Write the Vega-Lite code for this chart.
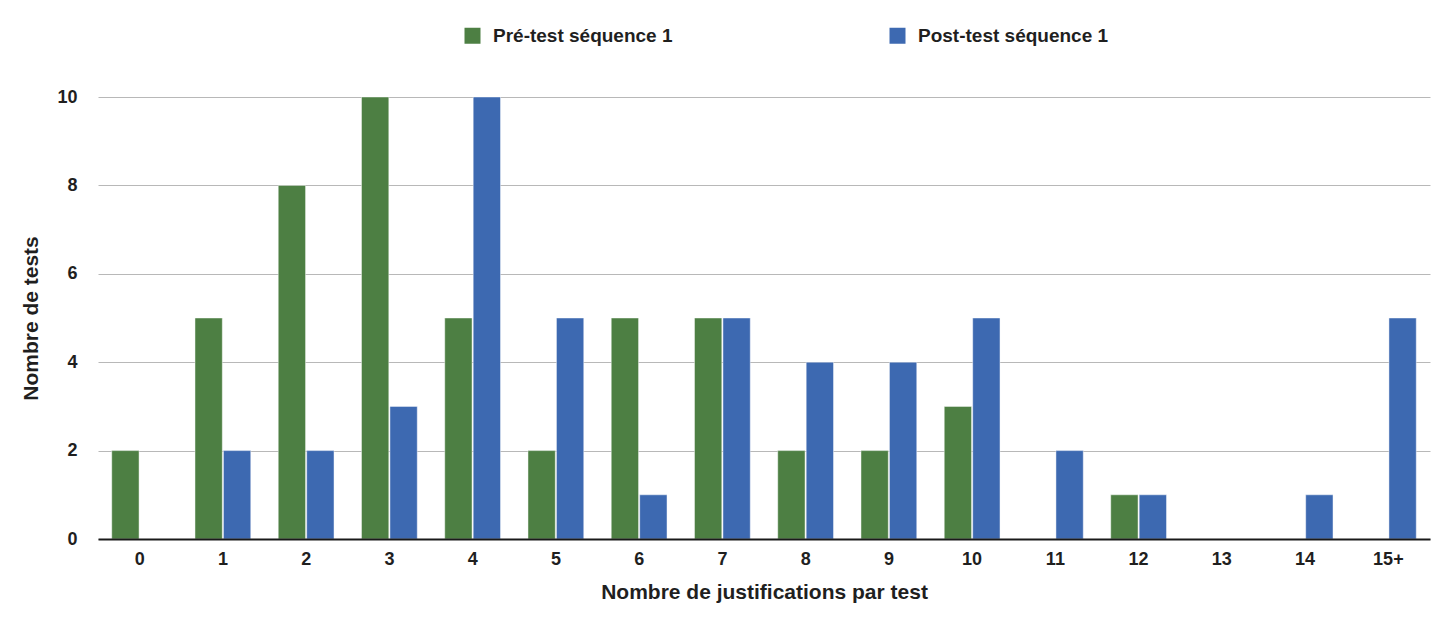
{
  "$schema": "https://vega.github.io/schema/vega-lite/v6.json",
  "width": 1332,
  "height": 442,
  "autosize": {"type": "none"},
  "padding": {"left": 98, "top": 97, "right": 5, "bottom": 83},
  "background": "white",
  "config": {
    "font": "Liberation Sans",
    "view": {"stroke": null},
    "axis": {"labelFont": "Liberation Sans", "titleFont": "Liberation Sans", "labelFontWeight": "bold", "titleFontWeight": "bold", "labelColor": "#1f1f1f", "titleColor": "#1f1f1f"}
  },
  "data": {
    "values": [
      {"cat": "0", "serie": "Pré-test séquence 1", "n": 2},
      {"cat": "1", "serie": "Pré-test séquence 1", "n": 5},
      {"cat": "1", "serie": "Post-test séquence 1", "n": 2},
      {"cat": "2", "serie": "Pré-test séquence 1", "n": 8},
      {"cat": "2", "serie": "Post-test séquence 1", "n": 2},
      {"cat": "3", "serie": "Pré-test séquence 1", "n": 10},
      {"cat": "3", "serie": "Post-test séquence 1", "n": 3},
      {"cat": "4", "serie": "Pré-test séquence 1", "n": 5},
      {"cat": "4", "serie": "Post-test séquence 1", "n": 10},
      {"cat": "5", "serie": "Pré-test séquence 1", "n": 2},
      {"cat": "5", "serie": "Post-test séquence 1", "n": 5},
      {"cat": "6", "serie": "Pré-test séquence 1", "n": 5},
      {"cat": "6", "serie": "Post-test séquence 1", "n": 1},
      {"cat": "7", "serie": "Pré-test séquence 1", "n": 5},
      {"cat": "7", "serie": "Post-test séquence 1", "n": 5},
      {"cat": "8", "serie": "Pré-test séquence 1", "n": 2},
      {"cat": "8", "serie": "Post-test séquence 1", "n": 4},
      {"cat": "9", "serie": "Pré-test séquence 1", "n": 2},
      {"cat": "9", "serie": "Post-test séquence 1", "n": 4},
      {"cat": "10", "serie": "Pré-test séquence 1", "n": 3},
      {"cat": "10", "serie": "Post-test séquence 1", "n": 5},
      {"cat": "11", "serie": "Post-test séquence 1", "n": 2},
      {"cat": "12", "serie": "Pré-test séquence 1", "n": 1},
      {"cat": "12", "serie": "Post-test séquence 1", "n": 1},
      {"cat": "14", "serie": "Post-test séquence 1", "n": 1},
      {"cat": "15+", "serie": "Post-test séquence 1", "n": 5}
    ]
  },
  "mark": {"type": "bar", "stroke": "white", "strokeOpacity": 0.45, "strokeWidth": 1},
  "encoding": {
    "x": {
      "field": "cat",
      "type": "nominal",
      "scale": {"domain": ["0","1","2","3","4","5","6","7","8","9","10","11","12","13","14","15+"], "paddingInner": 0.33, "paddingOuter": 0.165},
      "axis": {
        "title": "Nombre de justifications par test",
        "labelAngle": 0,
        "labelFontSize": 18,
        "titleFontSize": 21,
        "ticks": false,
        "tickSize": 0,
        "labelPadding": 11,
        "titlePadding": 13,
        "domainColor": "#1a1a1a",
        "domainWidth": 2,
        "grid": false,
        "zindex": 1
      }
    },
    "xOffset": {
      "field": "serie",
      "type": "nominal",
      "sort": ["Pré-test séquence 1", "Post-test séquence 1"],
      "scale": {"paddingInner": 0.04}
    },
    "y": {
      "field": "n",
      "type": "quantitative",
      "scale": {"domain": [0, 10], "nice": false},
      "axis": {
        "title": "Nombre de tests",
        "values": [0, 2, 4, 6, 8, 10],
        "labelFontSize": 18,
        "titleFontSize": 21,
        "ticks": false,
        "tickSize": 0,
        "labelPadding": 21,
        "titlePadding": 15,
        "domain": false,
        "grid": true,
        "gridColor": "#b8b8b8",
        "gridWidth": 1
      }
    },
    "color": {
      "field": "serie",
      "type": "nominal",
      "sort": ["Pré-test séquence 1", "Post-test séquence 1"],
      "scale": {"domain": ["Pré-test séquence 1", "Post-test séquence 1"], "range": ["#4d7f43", "#3d69b1"]},
      "legend": {
        "title": null,
        "orient": "none",
        "legendX": 365,
        "legendY": -71,
        "direction": "horizontal",
        "columns": 2,
        "columnPadding": 215,
        "padding": 0,
        "symbolType": "square",
        "symbolSize": 256,
        "symbolStrokeWidth": 0,
        "symbolOpacity": 1,
        "labelFont": "Liberation Sans",
        "labelFontSize": 19,
        "labelFontWeight": "bold",
        "labelColor": "#1f1f1f",
        "labelOffset": 11,
        "labelLimit": 400
      }
    }
  }
}
